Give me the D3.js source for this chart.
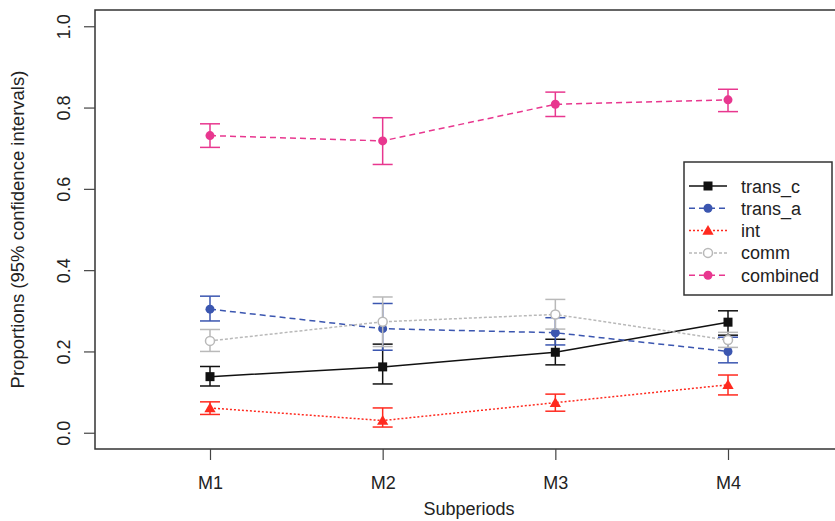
<!DOCTYPE html>
<html>
<head>
<meta charset="utf-8">
<script src="https://cdn.jsdelivr.net/npm/d3@7"></script>
<style>
    body { margin: 0; background: #fff; }
    svg { display: block; font-family: "Liberation Sans", Arial, sans-serif; }
</style>
</head>
<body>
<svg id="chart" width="835" height="521"></svg>
<script>
// Proportions per subperiod, with 95% confidence intervals
const periods = ['M1', 'M2', 'M3', 'M4'];
const yTicks = [0, 0.2, 0.4, 0.6, 0.8, 1.0];

const transC   = [0.138, 0.162, 0.198, 0.272];
const transCLo = [0.115, 0.120, 0.167, 0.240];
const transCHi = [0.163, 0.218, 0.230, 0.300];

const transA   = [0.304, 0.256, 0.246, 0.200];
const transALo = [0.275, 0.203, 0.216, 0.172];
const transAHi = [0.336, 0.318, 0.283, 0.235];

const intP   = [0.061, 0.030, 0.074, 0.118];
const intLo  = [0.045, 0.014, 0.053, 0.093];
const intHi  = [0.076, 0.061, 0.095, 0.142];

const comm   = [0.226, 0.273, 0.291, 0.228];
const commLo = [0.200, 0.212, 0.255, 0.210];
const commHi = [0.254, 0.334, 0.328, 0.247];

const combined   = [0.731, 0.718, 0.808, 0.819];
const combinedLo = [0.702, 0.660, 0.778, 0.790];
const combinedHi = [0.760, 0.775, 0.838, 0.845];

const series = [
    { name: 'trans_c',  v: transC,   lo: transCLo,   hi: transCHi,   color: '#111111', dash: null,  shape: 'square' },
    { name: 'trans_a',  v: transA,   lo: transALo,   hi: transAHi,   color: '#3b56b0', dash: '6,4', shape: 'circle' },
    { name: 'int',      v: intP,     lo: intLo,      hi: intHi,      color: '#ff2a1f', dash: '2,2', shape: 'triangle' },
    { name: 'comm',     v: comm,     lo: commLo,     hi: commHi,     color: '#b9b9b9', dash: '3,2', shape: 'open' },
    { name: 'combined', v: combined, lo: combinedLo, hi: combinedHi, color: '#e8378f', dash: '6,4', shape: 'circle' }
];

const svg = d3.select('#chart');
const plot = { left: 95, top: 10, right: 843, bottom: 449 };

const x = d3.scaleLinear().domain([0.334, 4.666]).range([plot.left, plot.right]);
const y = d3.scaleLinear().domain([-0.04, 1.04]).range([plot.bottom, plot.top]);

// frame
svg.append('rect')
    .attr('x', plot.left).attr('y', plot.top)
    .attr('width', plot.right - plot.left).attr('height', plot.bottom - plot.top)
    .attr('fill', 'none').attr('stroke', '#333').attr('stroke-width', 1.5);

// x axis
const xAxis = svg.append('g')
    .attr('transform', `translate(0,${plot.bottom})`)
    .call(d3.axisBottom(x).tickValues([1, 2, 3, 4]).tickSize(11).tickFormat((d, i) => periods[i]));
xAxis.select('.domain').remove();
xAxis.selectAll('line').attr('stroke', '#444').attr('stroke-width', 1.2);
xAxis.selectAll('text').attr('y', 27).attr('fill', '#222').style('font-size', '18px');

// y axis
const yAxis = svg.append('g')
    .attr('transform', `translate(${plot.left},0)`)
    .call(d3.axisLeft(y).tickValues(yTicks).tickSize(11).tickFormat(d3.format('.1f')));
yAxis.select('.domain').remove();
yAxis.selectAll('line').attr('stroke', '#444').attr('stroke-width', 1.2);
yAxis.selectAll('text')
    .attr('x', null).attr('dy', null)
    .attr('transform', 'translate(-25,0) rotate(-90)')
    .attr('text-anchor', 'middle')
    .attr('fill', '#222').style('font-size', '18px');

// axis titles
svg.append('text')
    .attr('x', (plot.left + plot.right) / 2).attr('y', 515)
    .attr('text-anchor', 'middle').attr('fill', '#222').style('font-size', '18px')
    .text('Subperiods');
svg.append('text')
    .attr('transform', `translate(24,${(plot.top + plot.bottom) / 2}) rotate(-90)`)
    .attr('text-anchor', 'middle').attr('fill', '#222').style('font-size', '18.5px')
    .text('Proportions (95% confidence intervals)');

function drawMarker(g, shape, color, cx, cy) {
    if (shape === 'square') {
        g.append('rect').attr('x', cx - 4.5).attr('y', cy - 4.5).attr('width', 9).attr('height', 9).attr('fill', color);
    } else if (shape === 'circle') {
        g.append('circle').attr('cx', cx).attr('cy', cy).attr('r', 4.5).attr('fill', color);
    } else if (shape === 'open') {
        g.append('circle').attr('cx', cx).attr('cy', cy).attr('r', 4.5).attr('fill', '#fff')
            .attr('stroke', color).attr('stroke-width', 1.5);
    } else if (shape === 'triangle') {
        g.append('path').attr('d', d3.symbol(d3.symbolTriangle, 55)()).attr('transform', `translate(${cx},${cy + 1})`)
            .attr('fill', color);
    }
}

const line = d3.line().x((d, i) => x(i + 1)).y(d => y(d));

series.forEach(s => {
    const g = svg.append('g');
    // error bars
    s.v.forEach((v, i) => {
        const cx = x(i + 1);
        g.append('line').attr('x1', cx).attr('x2', cx).attr('y1', y(s.lo[i])).attr('y2', y(s.hi[i]))
            .attr('stroke', s.color).attr('stroke-width', 1.5);
        [s.lo[i], s.hi[i]].forEach(c => {
            g.append('line').attr('x1', cx - 10).attr('x2', cx + 10).attr('y1', y(c)).attr('y2', y(c))
                .attr('stroke', s.color).attr('stroke-width', 1.5);
        });
    });
    g.append('path').datum(s.v).attr('d', line)
        .attr('fill', 'none').attr('stroke', s.color).attr('stroke-width', 1.5)
        .attr('stroke-dasharray', s.dash);
    s.v.forEach((v, i) => drawMarker(g, s.shape, s.color, x(i + 1), y(v)));
});

// legend
const leg = svg.append('g');
leg.append('rect').attr('x', 684).attr('y', 162).attr('width', 148).attr('height', 133)
    .attr('fill', '#fff').attr('stroke', '#333').attr('stroke-width', 1.5);
series.forEach((s, i) => {
    const ly = 186 + i * 22.3;
    leg.append('line').attr('x1', 689).attr('x2', 727).attr('y1', ly).attr('y2', ly)
        .attr('stroke', s.color).attr('stroke-width', 1.5).attr('stroke-dasharray', s.dash);
    drawMarker(leg, s.shape, s.color, 708, ly);
    leg.append('text').attr('x', 741).attr('y', ly + 6.5)
        .attr('fill', '#222').style('font-size', '18px').text(s.name);
});
</script>
</body>
</html>
